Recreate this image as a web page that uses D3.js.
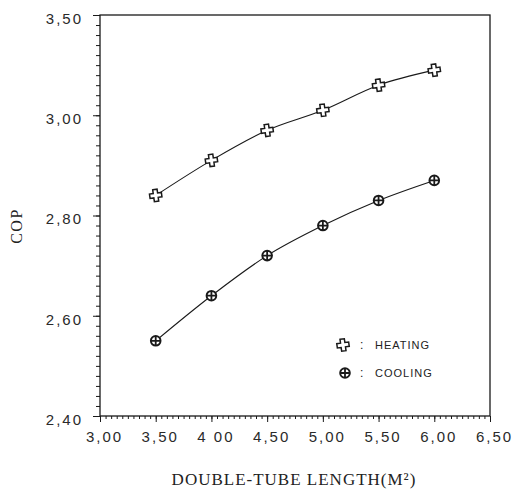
<!DOCTYPE html>
<html><head><meta charset="utf-8">
<script src="https://cdn.jsdelivr.net/npm/d3@7"></script>
<style>
body{margin:0;background:#fff;}
svg{display:block;}
</style></head>
<body><svg id="c" width="515" height="496"></svg>
<script>
const lengths = [3.5, 4.0, 4.5, 5.0, 5.5, 6.0];
const heating = [2.84, 2.91, 2.97, 3.01, 3.06, 3.09];
const cooling = [2.55, 2.64, 2.72, 2.78, 2.83, 2.87];
const xTicks = [3.0, 3.5, 4.0, 4.5, 5.0, 5.5, 6.0, 6.5];
const xTickLabels = ["3,00", "3,50", "4 00", "4,50", "5,00", "5,50", "6,00", "6,50"];
const yTicks = [2.4, 2.6, 2.8, 3.0, 3.2];
const yTickLabels = ["2,40", "2,60", "2,80", "3,00", "3,50"];
const seriesNames = ["HEATING", "COOLING"];

const svg = d3.select("#c");
const L = 100, R = 490, T = 15, B = 416;
const x = d3.scaleLinear().domain([3.0, 6.5]).range([L, R]);
const y = d3.scaleLinear().domain([2.4, 3.2]).range([B, T]);
const ink = "#1a1a1a";

// frame
svg.append("rect").attr("x", L).attr("y", T).attr("width", R - L).attr("height", B - T)
  .attr("fill", "none").attr("stroke", ink).attr("stroke-width", 1.3);

// x axis
const xMinor = d3.range(3.0, 6.5001, 0.05);
const xAx = svg.append("g").attr("transform", `translate(0,${B})`);
xAx.call(d3.axisBottom(x).tickValues(xMinor).tickSize(3).tickFormat(""));
xAx.call(g => g.select(".domain").remove());
const xMaj = svg.append("g").attr("transform", `translate(0,${B})`)
  .call(d3.axisBottom(x).tickValues(xTicks).tickSize(6).tickPadding(9)
    .tickFormat((d, i) => xTickLabels[i]));
xMaj.select(".domain").remove();
xMaj.selectAll("text").attr("font-family", "Liberation Sans, Arial, sans-serif")
  .attr("font-size", 15).attr("fill", "#2a2a2a").attr("letter-spacing", "2px").attr("dx", 4);

// y axis
const yMinor = d3.range(2.4, 3.2001, 0.02);
const yAx = svg.append("g").attr("transform", `translate(${L},0)`);
yAx.call(d3.axisLeft(y).tickValues(yMinor).tickSize(4).tickFormat(""));
yAx.select(".domain").remove();
const yMaj = svg.append("g").attr("transform", `translate(${L},0)`)
  .call(d3.axisLeft(y).tickValues(yTicks).tickSize(7).tickPadding(10)
    .tickFormat((d, i) => yTickLabels[i]));
yMaj.select(".domain").remove();
yMaj.selectAll("text").attr("font-family", "Liberation Sans, Arial, sans-serif")
  .attr("font-size", 15).attr("fill", "#2a2a2a").attr("letter-spacing", "2px").attr("dy", "0.55em");
svg.selectAll(".tick line").attr("stroke", ink);

// lines
const line = d3.line().x(d => x(d[0])).y(d => y(d[1])).curve(d3.curveMonotoneX);
const hData = lengths.map((l, i) => [l, heating[i]]);
const cData = lengths.map((l, i) => [l, cooling[i]]);
svg.append("path").datum(hData).attr("d", line).attr("fill", "none").attr("stroke", ink).attr("stroke-width", 1.1);
svg.append("path").datum(cData).attr("d", line).attr("fill", "none").attr("stroke", ink).attr("stroke-width", 1.1);

// markers
const crossPath = (() => {
  const a = 2.2, b = 6;
  return `M${-a},${-b}H${a}V${-a}H${b}V${a}H${a}V${b}H${-a}V${a}H${-b}V${-a}H${-a}Z`;
})();
function heatMarker(g, cx, cy) {
  g.append("path").attr("d", crossPath).attr("transform", `translate(${cx},${cy}) rotate(-8)`)
    .attr("fill", "#fff").attr("stroke", ink).attr("stroke-width", 1.5);
}
function coolMarker(g, cx, cy) {
  const m = g.append("g").attr("transform", `translate(${cx},${cy})`);
  m.append("circle").attr("r", 4.8).attr("fill", "#fff").attr("stroke", ink).attr("stroke-width", 2);
  m.append("path").attr("d", "M-4.5,0H4.5M0,-4.5V4.5").attr("stroke", ink).attr("stroke-width", 1.8);
}
const mg = svg.append("g");
hData.forEach(d => heatMarker(mg, x(d[0]), y(d[1])));
cData.forEach(d => coolMarker(mg, x(d[0]), y(d[1])));

// legend
const lg = svg.append("g");
heatMarker(lg, 343, 345);
coolMarker(lg, 345, 373);
[[345, seriesNames[0]], [373, seriesNames[1]]].forEach(([yy, name]) => {
  lg.append("text").attr("x", 360).attr("y", yy).attr("dy", "0.35em").text(":")
    .attr("font-family", "Liberation Sans, Arial, sans-serif").attr("font-size", 12).attr("fill", "#222");
  lg.append("text").attr("x", 375).attr("y", yy).attr("dy", "0.35em").text(name)
    .attr("font-family", "Liberation Sans, Arial, sans-serif").attr("font-size", 11)
    .attr("letter-spacing", "1px").attr("fill", "#222");
});

// axis titles
svg.append("text").attr("x", 294).attr("y", 485).attr("text-anchor", "middle")
  .attr("font-family", "Liberation Serif, Times New Roman, serif").attr("font-size", 17)
  .attr("letter-spacing", "1px").attr("fill", "#222").text("DOUBLE-TUBE LENGTH(M²)");
svg.append("text").attr("transform", "translate(22,226) rotate(-90)").attr("text-anchor", "middle")
  .attr("font-family", "Liberation Serif, Times New Roman, serif").attr("font-size", 16)
  .attr("letter-spacing", "1.5px").attr("fill", "#222").text("COP");
</script></body></html>
